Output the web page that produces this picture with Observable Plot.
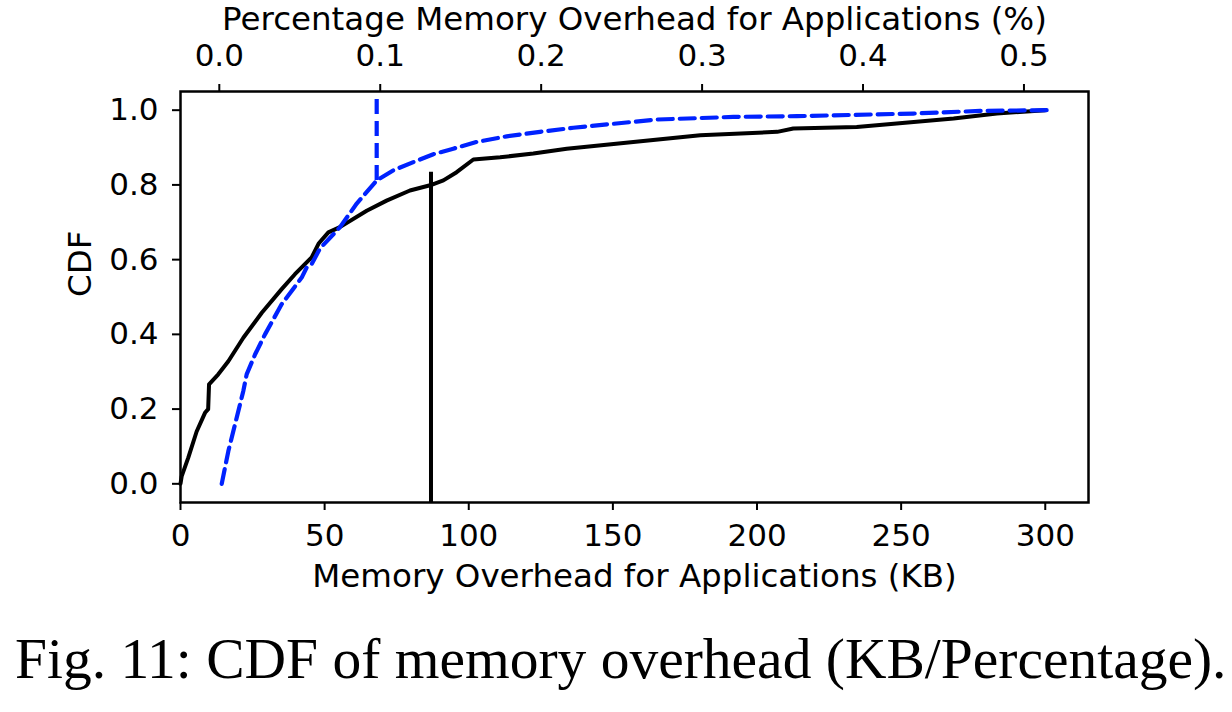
<!DOCTYPE html>
<html>
<head>
<meta charset="utf-8">
<script src="https://cdn.jsdelivr.net/npm/d3@7"></script>
<script src="https://cdn.jsdelivr.net/npm/@observablehq/plot@0.6"></script>
<style>
  html, body { margin: 0; padding: 0; background: #fff; }
  #wrap { position: relative; width: 1232px; height: 712px; overflow: hidden; }
  #caption { position: absolute; left: 15px; top: 630px; font-family: "Liberation Serif", "Times New Roman", serif; font-size: 57.5px; line-height: 57.5px; color: #000; white-space: nowrap; }
</style>
</head>
<body>
<div id="wrap">
  <div id="chart"></div>
  <div id="caption">Fig. 11: CDF of memory overhead (KB/Percentage).</div>
</div>
<script>
// Black solid CDF: memory overhead in KB
const kbValues = [0, 0.4, 2.7, 5.6, 8.5, 9.6, 9.9, 13.1, 16.6, 21.8, 28.2, 35.1, 39.7, 45.5, 48.0, 51.3, 55.3, 64.6, 71.5, 79.6, 86.6, 91.2, 95.8, 101.6, 110.9, 122.4, 134.0, 157.1, 180.3, 207.0, 212.6, 234.6, 268.2, 283.2, 300];
const kbCdf    = [0, 0.02, 0.07, 0.14, 0.19, 0.20, 0.266, 0.293, 0.328, 0.391, 0.458, 0.521, 0.561, 0.606, 0.644, 0.673, 0.687, 0.731, 0.758, 0.785, 0.799, 0.812, 0.834, 0.868, 0.874, 0.884, 0.897, 0.915, 0.933, 0.942, 0.951, 0.955, 0.978, 0.991, 1.0];

// Blue dashed CDF: memory overhead in percent (top axis)
const pctValues = [0.0015, 0.0056, 0.0108, 0.0149, 0.0170, 0.0222, 0.0284, 0.0388, 0.0512, 0.0543, 0.0574, 0.0626, 0.0750, 0.0854, 0.0978, 0.1081, 0.1206, 0.1330, 0.1454, 0.1600, 0.1786, 0.1993, 0.2200, 0.2718, 0.3195, 0.3589, 0.4313, 0.4728, 0.5142];
const pctCdf    = [0, 0.087, 0.177, 0.248, 0.293, 0.346, 0.400, 0.481, 0.552, 0.579, 0.588, 0.630, 0.687, 0.750, 0.812, 0.839, 0.861, 0.882, 0.897, 0.915, 0.930, 0.942, 0.953, 0.975, 0.982, 0.984, 0.991, 0.998, 1.0];

// Marker lines
const kbMarker = { x: 86.9, cdfTop: 0.834 };
const pctMarker = { x: 0.0978, cdfBottom: 0.812 };

// Tick values
const kbTicks = [0, 50, 100, 150, 200, 250, 300];
const pctTicks = [0.0, 0.1, 0.2, 0.3, 0.4, 0.5];
const cdfTicks = [0.0, 0.2, 0.4, 0.6, 0.8, 1.0];

// Relationship between the two x axes (top axis twin)
const twin = { kbAtZeroPct: 13.46, kbPerPct: 558.3 };
const pctToKb = p => twin.kbAtZeroPct + twin.kbPerPct * p;

const labels = {
  bottom: "Memory Overhead for Applications (KB)",
  top: "Percentage Memory Overhead for Applications (%)",
  left: "CDF"
};

const black = kbValues.map((x, i) => ({ x, y: kbCdf[i] }));
const blue = pctValues.map((p, i) => ({ x: pctToKb(p), y: pctCdf[i] }));

const FS = 32.5;   // axis label size
const TS = 31;     // tick label size
const font = "DejaVu Sans";
const BLUE = "#0022ff";

const chart = Plot.plot({
  width: 1232,
  height: 612,
  marginLeft: 180,
  marginRight: 144,
  marginTop: 91,
  marginBottom: 110,
  style: { fontFamily: font, fontSize: TS + "px", color: "#000", background: "#fff" },
  x: { domain: [0, 315] },
  y: { domain: [-0.05, 1.05] },
  marks: [
    Plot.axisX({ anchor: "bottom", ticks: kbTicks, tickSize: 8, tickPadding: 13, strokeWidth: 2, tickFormat: d => String(d), label: null, fontSize: TS }),
    Plot.axisX({ anchor: "top", ticks: pctTicks.map(pctToKb), tickSize: 8, tickPadding: 18, strokeWidth: 2,
      tickFormat: d => ((d - twin.kbAtZeroPct) / twin.kbPerPct).toFixed(1), label: null, fontSize: TS }),
    Plot.axisY({ anchor: "left", ticks: cdfTicks, tickSize: 8, tickPadding: 14, strokeWidth: 2, tickFormat: d3.format(".1f"), label: null, fontSize: TS }),
    Plot.text([labels.bottom], { text: d => d, frameAnchor: "bottom", lineAnchor: "middle", dy: 74.5, fontSize: FS, fill: "#000" }),
    Plot.text([labels.top], { text: d => d, frameAnchor: "top", lineAnchor: "middle", dy: -72.4, fontSize: FS, fill: "#000" }),
    Plot.text([labels.left], { text: d => d, frameAnchor: "left", lineAnchor: "middle", dx: -100, rotate: -90, fontSize: FS, fill: "#000" }),
    Plot.ruleX([kbMarker], { x: "x", y1: -0.05, y2: "cdfTop", stroke: "#000", strokeWidth: 4 }),
    Plot.ruleX([pctMarker], { x: d => pctToKb(d.x), y1: "cdfBottom", y2: 1.05, stroke: BLUE, strokeWidth: 4.2, strokeDasharray: "15,7" }),
    Plot.line(black, { x: "x", y: "y", stroke: "#000", strokeWidth: 4 }),
    Plot.line(blue, { x: "x", y: "y", stroke: BLUE, strokeWidth: 4.2, strokeDasharray: "15,7" }),
    Plot.frame({ stroke: "#000", strokeWidth: 2.5 })
  ]
});
document.getElementById("chart").appendChild(chart);
</script>
</body>
</html>
